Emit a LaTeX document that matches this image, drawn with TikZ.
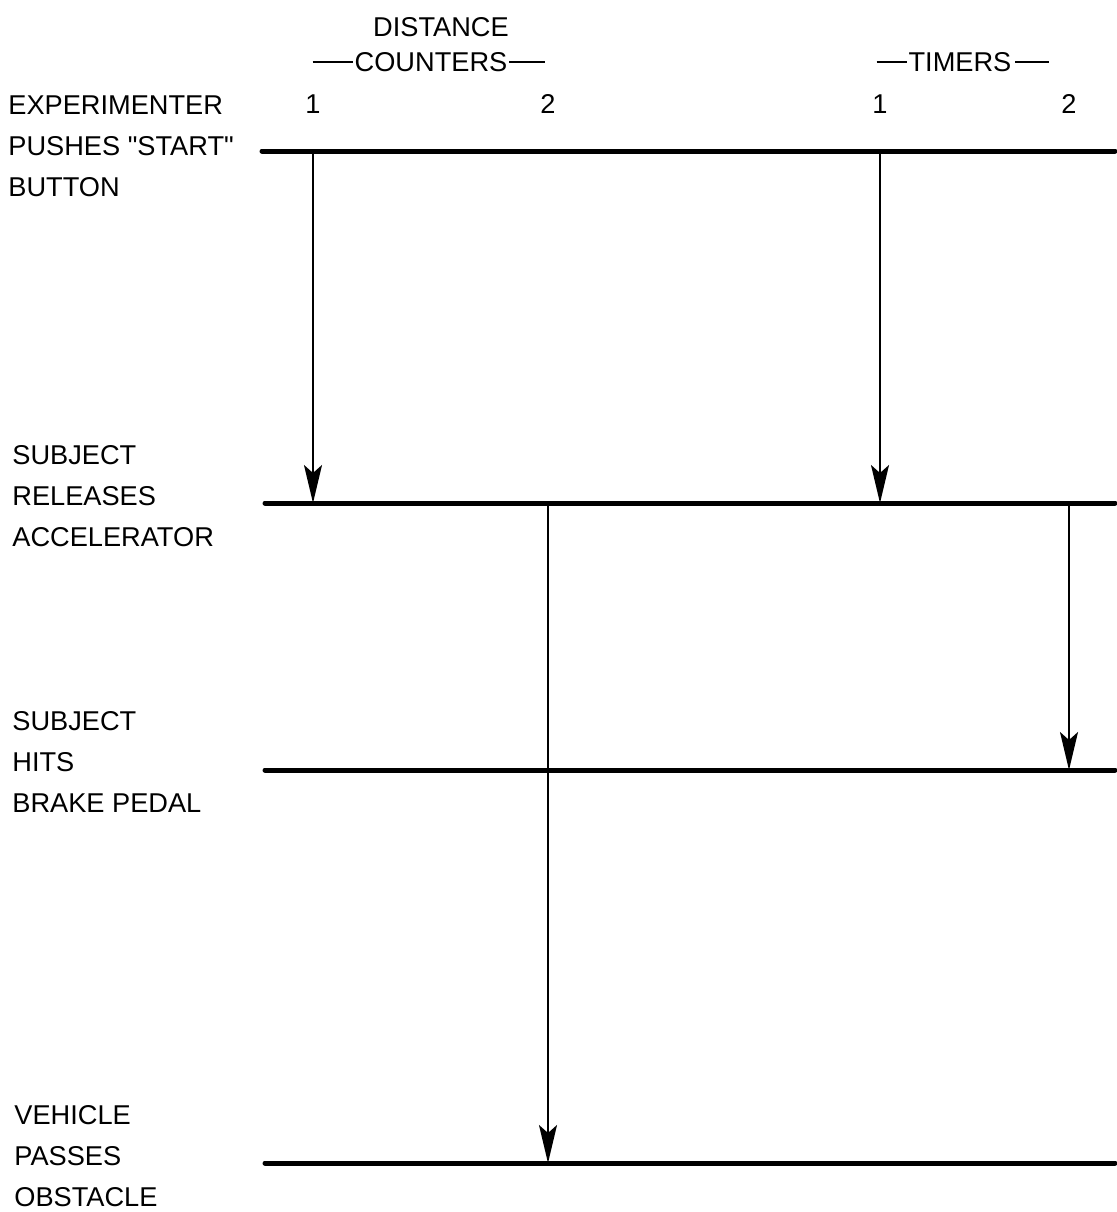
\documentclass[tikz,border=0pt]{standalone}
\usepackage{fontspec}
\setmainfont{Liberation Sans}
\usetikzlibrary{arrows.meta, positioning}

\newcommand{\hdrdash}[1]{\rule[0.3em]{#1}{1.1pt}}

\begin{document}
\begin{tikzpicture}[
  x=0.5pt, y=-0.5pt,
  % --- labels ---
  evt/.style={anchor=west, inner sep=0pt, align=left,
    font=\fontsize{13.6}{20.5}\selectfont},
  hdr/.style={inner sep=0pt, font=\fontsize{13.6}{15}\selectfont},
  % --- lines ---
  lvl/.style={line width=2.5pt, line cap=round},
  arr/.style={-{Stealth[length=19pt, width=9pt, inset=4pt]}, line width=1pt},
]
\useasboundingbox (0,0) rectangle (1117,1212);

% ===================== HEADER =====================

\node[hdr] (dist) at (441,27) {DISTANCE};
\node[hdr] (cnt) at (429,62) {\hdrdash{20pt}\kern1pt COUNTERS\kern1pt\hdrdash{18pt}};
\node[hdr] (tim) at (963,62) {\hdrdash{15pt}\kern1pt TIMERS\kern2pt\hdrdash{17pt}};

\node[hdr] (c1) at (313,104) {1};
\node[hdr] (c2) at (548,104) {2};
\node[hdr] (t1) at (880,104) {1};
\node[hdr] (t2) at (1069,104) {2};

% ===================== EVENTS =====================

\node[evt] (start) at (8,146) {EXPERIMENTER\\PUSHES \textquotedbl START\textquotedbl\\BUTTON};
\node[evt] (rel) at (12,496) {SUBJECT\\RELEASES\\ACCELERATOR};
\node[evt] (brk) at (12,762) {SUBJECT\\HITS\\BRAKE PEDAL};
\node[evt] (obst) at (14,1156) {VEHICLE\\PASSES\\OBSTACLE};

\coordinate (startL) at (262,151);
\coordinate (startR) at (1115,151);
\coordinate (relL) at (265,503);
\coordinate (relR) at (1115,503);
\coordinate (brkL) at (265,770);
\coordinate (brkR) at (1115,770);
\coordinate (obstL) at (265,1163);
\coordinate (obstR) at (1115,1163);

\draw[lvl] (startL) -- (startR);
\draw[lvl] (relL) -- (relR);
\draw[lvl] (brkL) -- (brkR);
\draw[lvl] (obstL) -- (obstR);

% ===================== ARROWS =====================

\draw[arr] (c1 |- startL) -- (c1 |- relL);
\draw[arr] (t1 |- startL) -- (t1 |- relL);
\draw[arr] (c2 |- relL) -- (c2 |- obstL);
\draw[arr] (t2 |- relL) -- (t2 |- brkL);

\end{tikzpicture}
\end{document}
